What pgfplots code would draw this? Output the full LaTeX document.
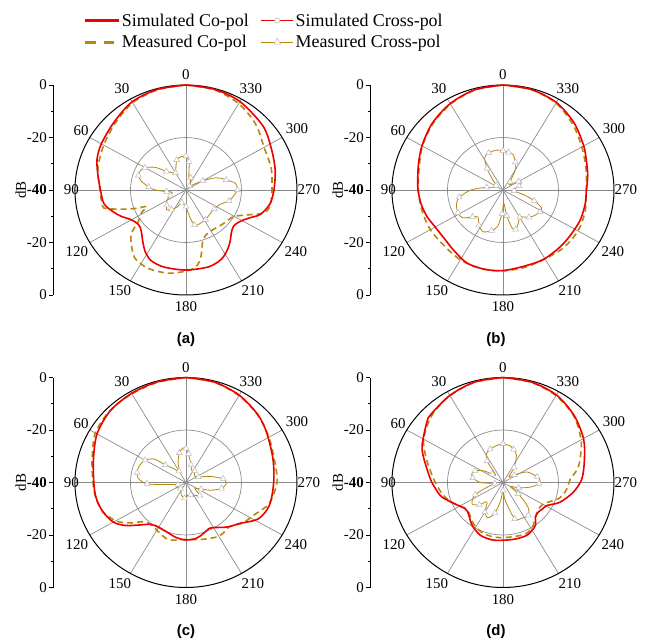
\documentclass[border=0pt]{standalone}
\usepackage{fontspec}
\setmainfont{Liberation Serif}
\setsansfont{Liberation Sans}
\usepackage{pgfplots}
\usepackage{pgfplotstable}
\pgfplotsset{compat=1.18}
\definecolor{simred}{RGB}{238,0,0}
\definecolor{meas}{RGB}{184,134,11}
\definecolor{spoke}{RGB}{140,140,140}

% ---------------- data: angle (deg, 0 at top, counter-clockwise), dB ----------------
\pgfplotstableread{
a db
0 0
15 -0.3
30 -1.2
45 -3.4
60 -4.8
70 -5.9
80 -7.8
90 -9.2
100 -10
107 -12.3
113 -14.5
120 -17.3
126 -18.3
131 -18.2
136 -17
142 -14.8
148 -12.3
155 -10.3
165 -9.6
180 -9.5
195 -9.6
203 -10.3
208 -11.2
214 -13
220 -15.1
225 -16.9
231 -18
236 -17.6
241 -16.4
246 -14.3
251 -11.6
260 -9.3
270 -8.3
283 -7
296 -5.6
311 -3.1
330 -1.1
345 -0.3
360 0
}\aSimCo
\pgfplotstableread{
a db
0 0
15 -0.5
30 -1.6
45 -4
60 -5.8
75 -7.2
90 -9
98 -9.3
103 -9.6
107 -15
111 -20.3
114 -24.5
118 -22
122 -20.5
125 -19
130 -14.4
136 -11.6
145 -8.1
155 -7.2
165 -7.5
172 -8
183 -9.5
188 -11
192 -14
197 -19.4
203 -21.5
208 -21.9
215 -22
225 -21.5
232 -21
239 -20.2
245 -17.3
250 -13
253 -10.3
258 -9.1
265 -9
270 -9
285 -8.2
300 -7.5
315 -4.5
330 -2
345 -0.5
360 0
}\aMeasCo
\pgfplotstableread{
a db
0 -27
8 -27.2
16 -28.1
24 -31
30 -32.5
38 -31.5
45 -30
52 -26
60 -23
66 -22
72 -22
78 -23.5
85 -26.5
90 -29
95 -33
100 -35
110 -34
120 -32
130 -31
137 -29.7
145 -31
153 -32.6
162 -35
170 -34.5
180 -33.7
187 -30
193 -26.3
200 -26.2
212 -26.7
225 -27.5
235 -27.5
245 -26.7
255 -24
262 -22.8
270 -21.5
278 -22
285 -25
293 -28
300 -33
310 -37
320 -38
330 -37
340 -35
348 -35
354 -29.2
360 -27
}\aCross
\pgfplotstableread{
a db
0 0
15 -0.5
30 -2
45 -4
60 -6.3
72 -8
82 -9
90 -9.4
100 -10
110 -10.8
120 -11.8
127 -12
134 -11.8
142 -11
155 -9.3
168 -9.1
180 -9.3
195 -10
209 -9.8
224 -10.1
236 -10.2
248 -9.9
260 -9.9
268 -10
280 -9
290 -8
300 -6.4
315 -3.8
330 -1.5
345 -0.4
360 0
}\bSimCo
\pgfplotstableread{
a db
0 0
15 -0.6
30 -2.2
45 -4.3
60 -6.5
75 -8.7
90 -9.5
105 -9.8
120 -9.8
135 -10
150 -9.3
165 -9
180 -9.2
195 -9.5
210 -9.7
225 -9
240 -8.8
255 -9.3
270 -10
285 -9
300 -7.2
315 -4.5
330 -1.8
345 -0.4
360 0
}\bMeasCo
\pgfplotstableread{
a db
0 -25
10 -24.6
20 -25
28 -26
35 -30
43 -34.5
55 -37
70 -37
80 -34
90 -28.5
100 -24
108 -22.4
118 -21.6
126 -22
133 -25
139 -26.3
147 -24
156 -22.6
165 -24
172 -26
178 -31
183 -35
188 -30
193 -25
197 -24.3
203 -26
210 -28
215 -27.5
222 -26
230 -25
238 -24.3
244 -24.5
250 -28
256 -32
265 -36
275 -36
285 -34
293 -32.7
300 -33.5
310 -37
320 -36
330 -31
337 -28.5
345 -26
352 -25.5
360 -25
}\bCross
\pgfplotstableread{
a db
0 0
15 -0.3
30 -0.8
45 -1.4
60 -3
75 -5.5
90 -6.8
100 -7.1
110 -8
120 -9.8
127 -12.8
134 -16.7
140 -19.2
147 -20.3
159 -20
170 -18.8
180 -18.1
190 -18.4
198 -19.6
206 -20.6
212 -19.8
218 -18.3
224 -16.8
231 -15.2
242 -10.5
254 -8.7
270 -8.4
286 -7.4
303 -5.3
315 -3.4
330 -1.6
345 -0.4
360 0
}\cSimCo
\pgfplotstableread{
a db
0 0
15 -0.5
30 -1
45 -1.3
60 -2.3
75 -5
90 -6.5
100 -7
110 -8
120 -10.8
127 -14.4
134 -18.5
142 -19.6
150 -19
158 -18
165 -17.3
180 -18.3
196 -17.5
209 -16.4
216 -16.6
223 -17
233 -14.4
245 -12.1
255 -9
270 -7.2
285 -7
300 -5.5
315 -3.5
330 -1.8
345 -0.5
360 0
}\cMeasCo
\pgfplotstableread{
a db
0 -27
5 -26.8
12 -28.5
20 -31.7
30 -35
40 -33
48 -30
52 -25.5
60 -23
70 -22
78 -22
85 -22.8
92 -26
97 -33.5
105 -37
120 -36
140 -37
160 -35
175 -34
185 -35
200 -35
215 -34
225 -33
235 -36
245 -34
252 -30.5
260 -27
268 -25.5
276 -26.5
285 -31
295 -35
310 -36
325 -34.5
335 -35
345 -33
350 -31.5
355 -29
360 -27
}\cCross
\pgfplotstableread{
a db
0 0
15 -0.4
30 -1.7
45 -3.3
50 -4.2
64 -7.6
72 -10
87 -13.8
95 -15.5
104 -17.3
117 -21.3
125 -23
130 -23.2
138 -22
146 -20.2
158 -18.3
170 -17.8
180 -18
192 -18
203 -18.1
210 -19
216 -20
222 -22.5
229 -23
235 -22.5
241 -21.9
250 -18.1
262 -14.3
273 -11.5
287 -9.3
300 -6.5
315 -3.8
330 -1.5
345 -0.4
360 0
}\dSimCo
\pgfplotstableread{
a db
0 0
15 -0.5
30 -1.8
45 -3.8
60 -7
72 -11
87 -15
100 -17.5
110 -19.5
120 -22
128 -23.5
138 -22.5
146 -21
158 -19.5
170 -19
180 -19
192 -19
203 -18.8
212 -20
220 -22
230 -23.5
241 -23.3
253 -19
263 -17
273 -15.7
280 -13
287 -11
300 -7.5
315 -4
330 -1.8
345 -0.5
360 0
}\dMeasCo
\pgfplotstableread{
a db
0 -25.2
10 -25.8
20 -26.5
28 -27.5
35 -30
42 -36
50 -35
58 -31.5
66 -29
73 -28.3
81 -29
90 -32
98 -37
105 -35
115 -29
126 -26.2
135 -28
142 -30.6
150 -27
158 -25.5
166 -28
173 -33
180 -37
187 -33
197 -25.5
207 -24.8
216 -24.5
224 -27
232 -33
240 -37
250 -34
260 -30
268 -27
274 -26.6
280 -27.5
295 -30.5
305 -35
315 -37
325 -33
335 -28.5
343 -26.8
350 -25.8
360 -25.2
}\dCross

\pgfplotsset{
  polarpanel/.style={
    scale only axis, width=244bp, height=210bp,
    xmin=-47.9, xmax=40, ymin=-40, ymax=40,
    axis x line=none, axis y line=left,
    y axis line style={-, line width=0.9bp},
    ytick={-40,-20,0,20,40},
    yticklabels={0,-20,\textbf{-40},-20,0},
    minor y tick num=1,
    tick align=outside,
    major tick length=4bp, minor tick length=2.5bp,
    every tick/.style={black, line width=0.8bp},
    yticklabel style={font=\fontsize{15}{15}\selectfont, inner sep=2bp},
    clip=false,
  },
  simco/.style={simred, line width=1.6bp, smooth, no marks},
  measco/.style={meas, line width=1.6bp, dash pattern=on 6bp off 4bp, smooth, no marks},
  meascross/.style={meas, line width=0.8bp, smooth, mark=triangle*, mark repeat=2,
     mark options={solid, fill=white, draw=gray!55, line width=0.5bp, scale=1.7}},
  pdata/.style={data cs=polar, forget plot},
}

\newcommand{\polargrid}{%
  \draw[spoke, line width=0.7bp] (axis cs:40,0) -- (axis cs:-40,0);
  \draw[spoke, line width=0.7bp] (axis cs:34.641,20) -- (axis cs:-34.641,-20);
  \draw[spoke, line width=0.7bp] (axis cs:20,34.641) -- (axis cs:-20,-34.641);
  \draw[spoke, line width=0.7bp] (axis cs:0,40) -- (axis cs:0,-40);
  \draw[spoke, line width=0.7bp] (axis cs:-20,34.641) -- (axis cs:20,-34.641);
  \draw[spoke, line width=0.7bp] (axis cs:-34.641,20) -- (axis cs:34.641,-20);
  \draw[spoke, line width=0.7bp] (axis cs:0,0) ellipse [x radius=20, y radius=20];
  \draw[black, line width=1bp] (axis cs:0,0) ellipse [x radius=40, y radius=40];
  \begin{scope}[font=\fontsize{15}{15}\selectfont]
  \node at (axis cs:0,43.8) {0};
  \node at (axis cs:-23.1,38.5) {30};
  \node at (axis cs:-37.8,22.5) {60};
  \node at (axis cs:-41.3,0) {90};
  \node at (axis cs:-39.3,-23.6) {120};
  \node at (axis cs:-23.8,-38.5) {150};
  \node at (axis cs:0,-44.6) {180};
  \node at (axis cs:24.1,-38.5) {210};
  \node at (axis cs:39.6,-23.6) {240};
  \node at (axis cs:44.3,0) {270};
  \node at (axis cs:40,23.2) {300};
  \node at (axis cs:23.4,38.5) {330};
  \node[rotate=90] at (axis cs:-59.5,0) {dB};
  \end{scope}
}

\newcommand{\polardata}[3]{%
  \addplot[meascross, pdata] table[x expr=\thisrow{a}+90, y expr=\thisrow{db}+40] {#3};
  \addplot[measco, pdata] table[x expr=\thisrow{a}+90, y expr=\thisrow{db}+40] {#2};
  \addplot[simco, pdata] table[x expr=\thisrow{a}+90, y expr=\thisrow{db}+40] {#1};
}

\begin{document}
\begin{tikzpicture}
\useasboundingbox (0,0) rectangle (649bp,644bp);

% (a)
\begin{axis}[polarpanel, at={(53bp,349bp)}, anchor=south west,
  legend columns=2,
  legend style={at={(axis description cs:0.865,1.36)}, anchor=north, draw=none, fill=none,
    font=\fontsize{18}{20}\selectfont, row sep=4bp,
    /tikz/column 2/.style={column sep=10bp}},
  legend cell align=left]
\addlegendimage{legend image code/.code={%
  \draw[simred, line width=2.4bp] (0bp,0bp) -- (34bp,0bp);}}
\addlegendentry{Simulated Co-pol}
\addlegendimage{legend image code/.code={%
  \draw[simred, line width=0.9bp] (0bp,0bp) -- (32bp,0bp);
  \draw[gray!55, fill=white, line width=0.5bp] (16bp,0bp) circle (2.6bp);}}
\addlegendentry{Simulated Cross-pol}
\addlegendimage{legend image code/.code={%
  \draw[meas, line width=2.4bp] (0bp,0bp) -- (11bp,0bp) (19bp,0bp) -- (29bp,0bp);}}
\addlegendentry{Measured Co-pol}
\addlegendimage{legend image code/.code={%
  \draw[meas, line width=0.9bp] (0bp,0bp) -- (32bp,0bp);
  \draw[gray!55, fill=white, line width=0.5bp] (12.6bp,-1.6bp) -- (19.4bp,-1.6bp) -- (16bp,4.2bp) -- cycle;}}
\addlegendentry{Measured Cross-pol}
\polargrid
\polardata{\aSimCo}{\aMeasCo}{\aCross}
\end{axis}

% (b)
\begin{axis}[polarpanel, at={(370bp,349bp)}, anchor=south west]
\polargrid
\polardata{\bSimCo}{\bMeasCo}{\bCross}
\end{axis}

% (c)
\begin{axis}[polarpanel, at={(53bp,56.5bp)}, anchor=south west]
\polargrid
\polardata{\cSimCo}{\cMeasCo}{\cCross}
\end{axis}

% (d)
\begin{axis}[polarpanel, at={(370bp,56.5bp)}, anchor=south west]
\polargrid
\polardata{\dSimCo}{\dMeasCo}{\dCross}
\end{axis}

\begin{scope}[font=\sffamily\bfseries\fontsize{15}{15}\selectfont]
\node at (186bp,304bp) {(a)};
\node at (496bp,304bp) {(b)};
\node at (186bp,12bp) {(c)};
\node at (496bp,12bp) {(d)};
\end{scope}
\end{tikzpicture}
\end{document}
